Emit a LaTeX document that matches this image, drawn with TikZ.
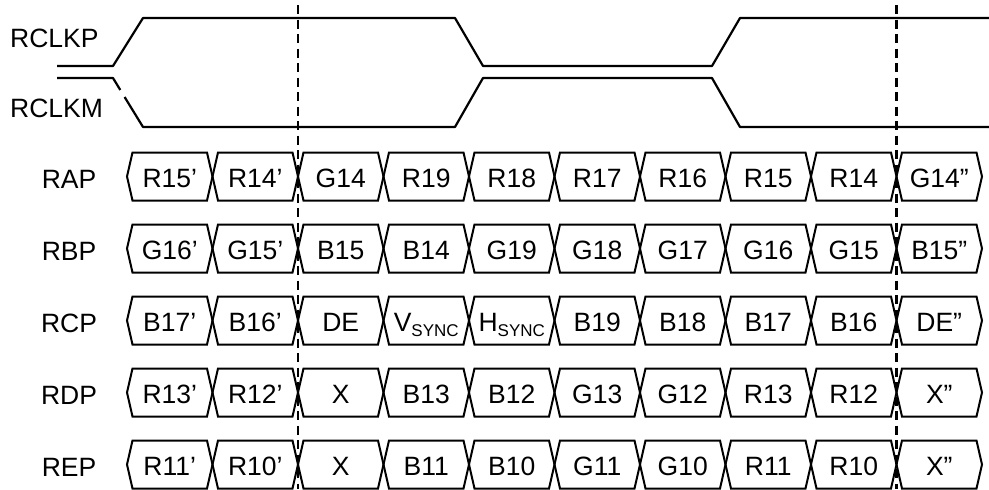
\documentclass[tikz,border=0pt]{standalone}
\usepackage{fontspec}
\setmainfont{Liberation Sans}
\newcommand{\sg}[2]{#1{\fontsize{17}{17}\selectfont\raisebox{-5pt}{#2}}}
\tikzset{
  wave/.style={line width=2.2pt, line join=round},
  cellbox/.style={line width=2pt, line join=miter},
  marker/.style={line width=2.2pt, dash pattern=on 9pt off 5.5pt},
  lbl/.style={font=\fontsize{26.5}{30}\selectfont, inner sep=0pt, anchor=base},
}
\newcommand\busrow[4]{%
  \node[lbl] (#1) at (69,#2+12) {#3};
  \foreach \t [count=\i from 0] in {#4} {
    \pgfmathsetmacro\xa{127+85.5*\i}
    \pgfmathsetmacro\xb{\xa+85.5}
    \draw[cellbox] (\xa,#2) -- (\xa+5.5,#2-24) -- (\xb-5.5,#2-24) -- (\xb,#2)
      -- (\xb-5.5,#2+24) -- (\xa+5.5,#2+24) -- cycle;
    \node[lbl] (#1-\i) at ({(\xa+\xb)/2},#2+10.5) {\t};
  }}
\begin{document}
\begin{tikzpicture}[x=1pt,y=-1pt]
\useasboundingbox (0,0) rectangle (989,490);
% clock
\node[lbl, anchor=base west] (rclkp) at (10,47.5) {RCLKP};
\node[lbl, anchor=base west] (rclkm) at (10,117) {RCLKM};
\draw[wave] (57,66) -- (113,66) -- (143,18) -- (455,18) -- (483,66) -- (712,66) -- (740,18) -- (989,18);
\draw[wave] (57,78) -- (113,78) -- (120.3,90);
\draw[wave] (124.6,97) -- (143,127) -- (455,127) -- (483,78) -- (712,78) -- (740,127) -- (989,127);
% buses
\busrow{rap}{176.5}{RAP}{R15’,R14’,G14,R19,R18,R17,R16,R15,R14,G14”}
\busrow{rbp}{248.5}{RBP}{G16’,G15’,B15,B14,G19,G18,G17,G16,G15,B15”}
\busrow{rcp}{320.5}{RCP}{B17’,B16’,DE,\sg{V}{SYNC},\sg{H}{SYNC},B19,B18,B17,B16,DE”}
\busrow{rdp}{392.5}{RDP}{R13’,R12’,X,B13,B12,G13,G12,R13,R12,X”}
\busrow{rep}{464.5}{REP}{R11’,R10’,X,B11,B10,G11,G10,R11,R10,X”}
% markers
\coordinate (m1a) at (298,5);
\coordinate (m1b) at (298,489);
\coordinate (m2a) at (896.5,5);
\coordinate (m2b) at (896.5,489);
\draw[marker] (m1a) -- (m1b);
\draw[marker] (m2a) -- (m2b);
\end{tikzpicture}
\end{document}
